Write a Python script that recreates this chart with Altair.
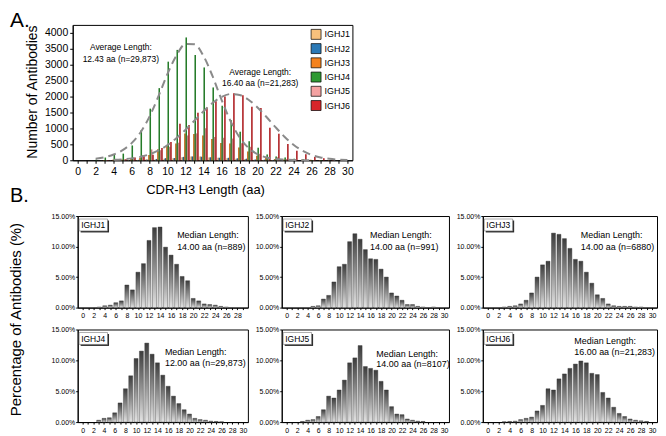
import altair as alt
import pandas as pd

FONT = "Liberation Sans, Arial, Helvetica, sans-serif"

# ---------------- data ----------------
lengths = list(range(31))
genes = ["IGHJ1", "IGHJ2", "IGHJ3", "IGHJ4", "IGHJ5", "IGHJ6"]
gene_colors = ["#F7C07C", "#2B79B6", "#F4821E", "#2F9A34", "#F4A2A2", "#D8262A"]

# Panel A: number of antibodies per CDR-H3 length (0..30)
count_j1 = [0, 0, 0, 1, 3, 4, 7, 10, 33, 26, 52, 64, 98, 116, 117, 88, 76, 63, 45, 39, 13, 10, 5, 4, 4, 2, 1, 0, 0, 0, 0]
count_j2 = [0, 0, 0, 0, 0, 2, 3, 14, 20, 42, 66, 70, 107, 120, 111, 94, 79, 78, 62, 50, 24, 19, 12, 5, 5, 2, 1, 0, 1, 0, 0]
count_j3 = [0, 0, 0, 7, 14, 21, 41, 83, 165, 344, 482, 523, 839, 826, 777, 667, 544, 523, 399, 275, 144, 103, 41, 21, 14, 14, 14, 7, 7, 0, 0]
count_j4 = [0, 0, 20, 85, 185, 208, 465, 945, 1620, 2265, 3095, 3465, 3855, 3305, 2910, 2285, 1715, 1255, 895, 595, 390, 180, 120, 90, 45, 30, 10, 5, 0, 0, 0]
count_j5 = [0, 0, 0, 8, 24, 32, 73, 162, 340, 316, 422, 551, 778, 843, 1005, 730, 705, 681, 535, 422, 203, 105, 97, 41, 24, 12, 8, 0, 0, 0, 0]
count_j6 = [0, 0, 0, 11, 21, 32, 85, 128, 170, 383, 575, 1149, 1107, 1490, 1660, 1852, 2000, 2107, 2043, 1681, 1639, 1022, 830, 511, 298, 192, 106, 64, 43, 21, 0]
counts = [count_j1, count_j2, count_j3, count_j4, count_j5, count_j6]

# dashed fitted curves
fit_len_j4 = list(range(2, 27))
fit_j4 = [45, 95, 180, 320, 540, 880, 1380, 2020, 2720, 3300, 3650, 3640, 3270, 2640, 1900,
          1230, 720, 390, 190, 90, 40, 20, 8, 3, 1]
fit_len_j6 = list(range(4, 31))
fit_j6 = [15, 30, 60, 110, 190, 310, 480, 700, 960, 1250, 1540, 1800, 1990, 2080, 2050,
          1900, 1660, 1360, 1040, 740, 490, 300, 170, 90, 45, 20, 9]

avg_text = ["Average Length:", "12.43 aa (n=29,873)", "Average Length:", "16.40 aa (n=21,283)"]
avg_x = [4.8, 4.8, 20.3, 20.3]
avg_y = [3560, 3190, 2780, 2440]

# Panel B: percentage of antibodies per length (0..30)
pct_j1 = [0, 0, 0, 0.1, 0.3, 0.4, 0.8, 1.1, 3.7, 2.9, 5.8, 7.2, 11.0, 13.1, 13.2, 9.9, 8.6, 7.1, 5.1, 4.4, 1.5, 1.1, 0.6, 0.5, 0.4, 0.2, 0.1, 0, 0, 0, 0]
pct_j2 = [0, 0, 0, 0, 0, 0.2, 0.3, 1.4, 2.0, 4.2, 6.7, 7.1, 10.8, 12.1, 11.2, 9.5, 8.0, 7.9, 6.3, 5.0, 2.4, 1.9, 1.2, 0.5, 0.5, 0.2, 0.1, 0, 0.1, 0, 0]
pct_j3 = [0, 0, 0, 0.1, 0.2, 0.3, 0.6, 1.2, 2.4, 5.0, 7.0, 7.6, 12.2, 12.0, 11.3, 9.7, 7.9, 7.6, 5.8, 4.0, 2.1, 1.5, 0.6, 0.3, 0.2, 0.2, 0.2, 0.1, 0.1, 0, 0]
pct_j4 = [0, 0, 0, 0.3, 0.6, 0.7, 1.5, 3.1, 5.4, 7.5, 10.3, 11.5, 12.8, 11.0, 9.6, 7.6, 5.8, 4.2, 3.0, 2.0, 1.3, 0.6, 0.4, 0.3, 0.15, 0.1, 0.05, 0, 0, 0, 0]
pct_j5 = [0, 0, 0, 0.1, 0.3, 0.4, 0.9, 2.0, 4.2, 3.9, 5.2, 6.8, 9.6, 10.4, 12.4, 9.0, 8.7, 8.4, 6.6, 5.2, 2.5, 1.3, 1.2, 0.5, 0.3, 0.15, 0.1, 0, 0, 0, 0]
pct_j6 = [0, 0, 0, 0.05, 0.1, 0.15, 0.4, 0.6, 0.8, 1.8, 2.7, 5.4, 5.2, 7.0, 7.8, 8.7, 9.4, 9.9, 9.6, 7.9, 7.7, 4.8, 3.9, 2.4, 1.4, 0.9, 0.5, 0.3, 0.2, 0.1, 0]
pcts = [pct_j1, pct_j2, pct_j3, pct_j4, pct_j5, pct_j6]

median_line1 = "Median Length:"
median_line2 = ["14.00 aa (n=889)", "14.00 aa (n=991)", "14.00 aa (n=6880)",
                "12.00 aa (n=29,873)", "14.00 aa (n=8107)", "16.00 aa (n=21,283)"]

# ---------------- panel A ----------------
rows = []
for gi, (g, vals) in enumerate(zip(genes, counts)):
    for L, c in zip(lengths, vals):
        if c > 0:
            rows.append({"len": L, "gene": g, "gi": gi, "count": c})
dfA = pd.DataFrame(rows)

xA = alt.Scale(domain=[0, 30], nice=False)
yA = alt.Scale(domain=[0, 4250], nice=False)
xaxA = alt.Axis(values=lengths, labelExpr="datum.value % 2 === 0 ? datum.label : ''",
                labelFlush=False, labelOverlap=False, tickSize=3, labelPadding=3,
                labelFontSize=10.5, title="CDR-H3 Length (aa)", titleFontSize=13,
                titleFontWeight="normal", titleX=133, titleY=33, titleBaseline="alphabetic")
yaxA = alt.Axis(values=[0, 500, 1000, 1500, 2000, 2500, 3000, 3500, 4000], format="d",
                tickSize=3, labelPadding=2, labelFontSize=10.5, labelOverlap=False,
                title="Number of Antibodies", titleFontSize=14, titleFontWeight="normal",
                titleX=-36, titleY=67, titleBaseline="alphabetic")

baseA = alt.Chart(dfA).transform_calculate(
    xpos="datum.len + (datum.gi - 2.5) * 0.15"
)
barsA = baseA.mark_bar(size=1.5).encode(
    x=alt.X("xpos:Q", scale=xA, axis=xaxA),
    y=alt.Y("count:Q", scale=yA, axis=yaxA),
    color=alt.Color("gene:N", scale=alt.Scale(domain=genes, range=gene_colors),
                    legend=alt.Legend(title=None, orient="none", legendX=239, legendY=4,
                                      symbolType="square", symbolSize=100,
                                      symbolStrokeColor="black", symbolStrokeWidth=0.7,
                                      labelFontSize=9, labelOffset=3, rowPadding=1.3,
                                      padding=0)),
)
# darker shading of the bars (as in the original rendering)
shadeA = baseA.mark_bar(size=1.5, color="black", opacity=0.2).encode(
    x=alt.X("xpos:Q", scale=xA, axis=xaxA),
    y=alt.Y("count:Q", scale=yA, axis=yaxA),
)

fit_df = pd.DataFrame({
    "len": fit_len_j4 + fit_len_j6,
    "val": fit_j4 + fit_j6,
    "curve": ["J4"] * len(fit_len_j4) + ["J6"] * len(fit_len_j6),
})
fitsA = alt.Chart(fit_df).mark_line(
    interpolate="monotone", strokeDash=[8, 5], strokeWidth=2, color="#8a8a8a"
).encode(x=alt.X("len:Q", scale=xA, axis=xaxA), y=alt.Y("val:Q", scale=yA, axis=yaxA),
         detail="curve:N")

txt_df = pd.DataFrame({"x": avg_x, "y": avg_y, "t": avg_text})
textA = alt.Chart(txt_df).mark_text(fontSize=8.5, align="center", baseline="middle",
                                    color="black").encode(
    x=alt.X("x:Q", scale=xA, axis=xaxA), y=alt.Y("y:Q", scale=yA, axis=yaxA), text="t:N")

chartA = alt.layer(barsA, shadeA, fitsA, textA).properties(
    width=281, height=136,
    title=alt.TitleParams("A.", anchor="start", frame="group", fontSize=21,
                          fontWeight="normal", dx=-63, offset=-6, color="black"),
)

# ---------------- panel B ----------------
grad = alt.Gradient(
    gradient="linear",
    stops=[alt.GradientStop(color="#3c3c3c", offset=0),
           alt.GradientStop(color="#8e8e8e", offset=0.5),
           alt.GradientStop(color="#e4e4e4", offset=1)],
    x1=0, x2=0, y1=0, y2=1,
)


def panel(i, width, height, xmax, tx, ty1, ty2, first=False):
    df = pd.DataFrame({"len": lengths, "pct": pcts[i]})
    xs = alt.Scale(domain=[0, xmax], nice=False)
    ys = alt.Scale(domain=[0, 15], nice=False)
    xaxis = alt.Axis(values=list(range(0, xmax + 1)),
                     labelExpr="datum.value % 2 === 0 ? datum.label : ''",
                     labelFlush=False, labelOverlap=False, tickSize=2, labelPadding=2,
                     labelFontSize=7, title=None)
    if first:
        yaxis = alt.Axis(values=[0, 5, 10, 15], labelExpr="format(datum.value, '.2f') + '%'",
                         tickSize=2, labelPadding=1, labelFontSize=7, labelOverlap=False,
                         labelFlush=False,
                         title="Percentage of Antibodies (%)", titleFontSize=15,
                         titleFontWeight="normal", titleX=-57, titleY=103.5,
                         titleBaseline="alphabetic")
    else:
        yaxis = alt.Axis(values=[0, 5, 10, 15], labelExpr="format(datum.value, '.2f') + '%'",
                         tickSize=2, labelPadding=1, labelFontSize=7, labelOverlap=False,
                         labelFlush=False, title=None)
    bars = alt.Chart(df).transform_filter("datum.pct > 0").mark_bar(
        size=4, fill=grad, stroke="#333333", strokeWidth=0.4
    ).encode(x=alt.X("len:Q", scale=xs, axis=xaxis), y=alt.Y("pct:Q", scale=ys, axis=yaxis))

    box_df = pd.DataFrame({"label": [genes[i]]})
    shadow = alt.Chart(box_df).mark_rect(fill="#2b2b2b").encode(
        x=alt.value(3), x2=alt.value(31.5), y=alt.value(4.5), y2=alt.value(16.5))
    box = alt.Chart(box_df).mark_rect(fill="white", stroke="#777777", strokeWidth=0.6).encode(
        x=alt.value(1.5), x2=alt.value(30), y=alt.value(3), y2=alt.value(15))
    lab = alt.Chart(box_df).mark_text(align="left", baseline="middle", fontSize=8.5,
                                      color="black").encode(
        x=alt.value(3.5), y=alt.value(9.3), text="label:N")

    mdf = pd.DataFrame({"x": [tx, tx], "y": [ty1, ty2], "t": [median_line1, median_line2[i]]})
    med = alt.Chart(mdf).mark_text(align="left", baseline="middle", fontSize=9,
                                   color="black").encode(
        x=alt.X("x:Q", scale=xs, axis=xaxis), y=alt.Y("y:Q", scale=ys, axis=yaxis), text="t:N")

    props = dict(width=width, height=height)
    if first:
        props["title"] = alt.TitleParams("B.", anchor="start", frame="group", fontSize=20,
                                         fontWeight="normal", dx=-68, offset=6, color="black")
    return alt.layer(bars, shadow, box, lab, med).properties(**props)


p1 = panel(0, 171, 92, 29, 17.1, 11.9, 10.0, first=True)
p2 = panel(1, 168, 92, 30, 15.9, 11.9, 10.0)
p3 = panel(2, 175, 92, 30, 17.0, 11.9, 10.0)
p4 = panel(3, 171, 93, 30, 15.4, 11.3, 9.6)
p5 = panel(4, 168, 93, 30, 17.1, 11.1, 9.4)
p6 = panel(5, 175, 93, 30, 15.8, 13.1, 11.3)

grid = alt.concat(p1, p2, p3, p4, p5, p6, columns=3,
                  spacing={"row": 22, "column": 34}, bounds="flush", align="each")

spacer = alt.Chart(pd.DataFrame({"v": [0]})).mark_point(opacity=0, size=1).encode(
    x=alt.value(0), y=alt.value(0)
).properties(width=1, height=1, view=alt.ViewBackground(stroke="transparent"))

bsec = alt.hconcat(spacer, grid, spacing=4, bounds="flush")

chart = alt.vconcat(chartA, bsec, spacing=56, bounds="flush").properties(
    padding=0, background="white"
).configure_axis(
    grid=False, domainColor="black", tickColor="black", labelColor="black",
    titleColor="black", labelFont=FONT, titleFont=FONT, domainWidth=1
).configure_view(
    stroke="black", strokeWidth=1
).configure_text(font=FONT).configure_title(font=FONT).configure_legend(labelFont=FONT)

chart.save("out.html", embed_options={"renderer": "svg", "actions": False})
